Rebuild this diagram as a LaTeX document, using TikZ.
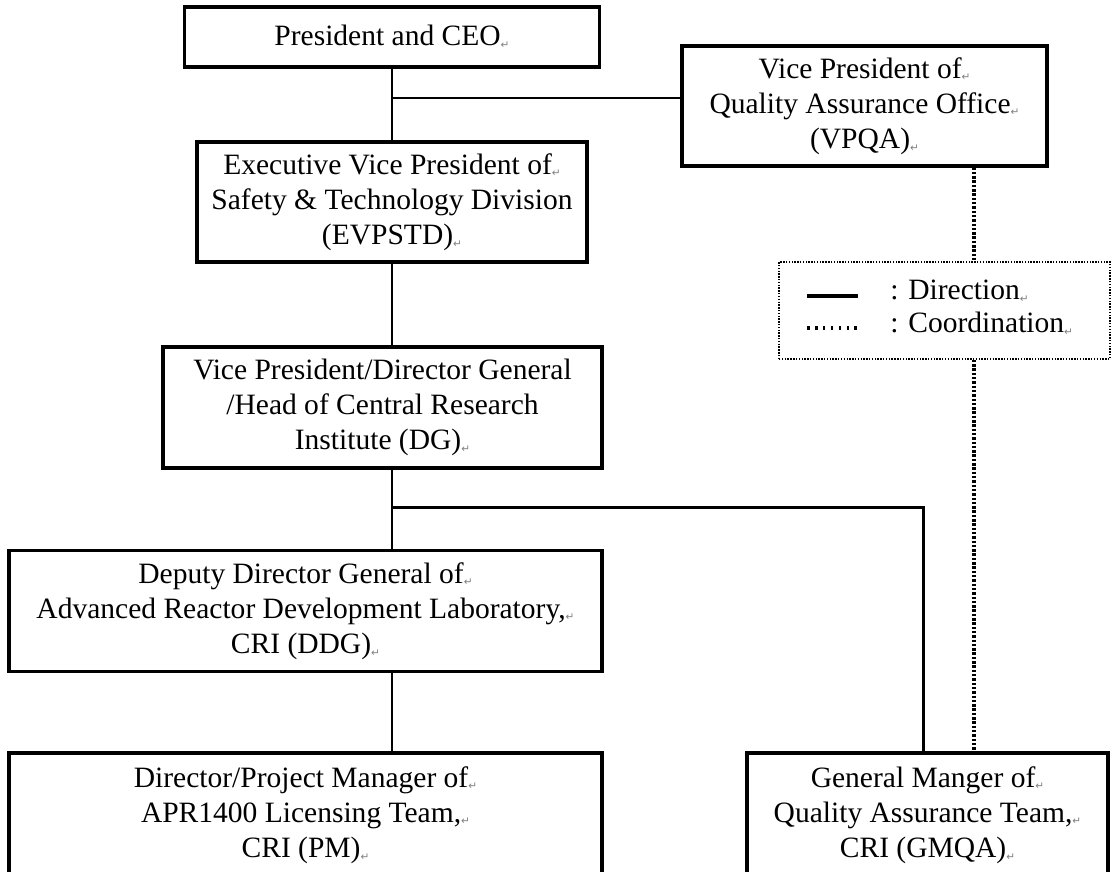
\documentclass[tikz,border=0pt]{standalone}
\usepackage{fontspec}
\setmainfont{Liberation Serif}
\newfontfamily\markfont{DejaVu Sans}
\usetikzlibrary{positioning,calc}
\tikzset{
    unit/.style={
        draw,
        rectangle,
        line width=1.8pt,
        inner sep=0pt,
        align=center,
        font=\fontsize{16.8}{20}\selectfont
    },
    keybox/.style={
        draw,
        rectangle,
        line width=0.9pt,
        dash pattern=on 0.8pt off 0.8pt,
        inner sep=0pt
    },
    keytext/.style={anchor=west, inner sep=0pt, font=\fontsize{16.8}{20}\selectfont},
    direct/.style={line width=1.7pt},
    coord/.style={line width=2pt, dash pattern=on 1.4pt off 1.05pt}
}
\newcommand{\retmark}{\raisebox{-0.2ex}{\markfont\fontsize{6}{6}\selectfont\color{gray}↵}}

\begin{document}
\begin{tikzpicture}[x=0.02cm, y=-0.02cm]
  \useasboundingbox (0,0) rectangle (1112,872);
  \clip (0,0) rectangle (1112,872);

  % Boxes
  \node[unit, minimum width=8.3cm, minimum height=1.2cm] (ceo) at (392,37) {President and CEO\retmark};
  \node[unit, minimum width=7.3cm, minimum height=2.4cm] (vpqa) at (864.5,106)
    {Vice President of\retmark\\Quality Assurance Office\retmark\\(VPQA)\retmark};
  \node[unit, minimum width=7.8cm, minimum height=2.4cm] (evp) at (392,202)
    {Executive Vice President of\retmark\\Safety \& Technology Division\\(EVPSTD)\retmark};
  \node[unit, minimum width=8.78cm, minimum height=2.42cm] (dg) at (382.5,407.5)
    {Vice President/Director General\\/Head of Central Research\\Institute (DG)\retmark};
  \node[unit, minimum width=11.86cm, minimum height=2.42cm] (ddg) at (305.5,611)
    {Deputy Director General of\retmark\\Advanced Reactor Development Laboratory,\retmark\\CRI (DDG)\retmark};
  \node[unit, minimum width=11.86cm, minimum height=2.48cm] (pm) at (305.5,815)
    {Director/Project Manager of\retmark\\APR1400 Licensing Team,\retmark\\CRI (PM)\retmark};
  \node[unit, minimum width=7.22cm, minimum height=2.48cm] (gmqa) at (927.5,815)
    {General Manger of\retmark\\Quality Assurance Team,\retmark\\CRI (GMQA)\retmark};

  % Legend
  \node[keybox, minimum width=6.62cm, minimum height=1.94cm] (key) at (944.5,310.5) {};
  \coordinate (dirA) at (807,296);
  \coordinate (dirB) at (858,296);
  \coordinate (corA) at (807,328);
  \coordinate (corB) at (858,328);
  \draw[line width=1.8pt] (dirA) -- (dirB);
  \draw[line width=2pt, dash pattern=on 1.5pt off 3pt] (corA) -- (corB);
  \node[keytext] (dirtext) at (890,291) {: Direction\retmark};
  \node[keytext] (cortext) at (890,324) {: Coordination\retmark};

  % Direction lines
  \coordinate (ceoj) at (392,98);
  \coordinate (dgj) at (392,507);
  \coordinate (qaj) at (923,507);
  \draw[direct] (ceo.south) -- (evp.north);
  \draw[direct] (ceoj) -- (ceoj -| vpqa.west);
  \draw[direct] (evp.south) -- (evp.south |- dg.north);
  \draw[direct] (evp.south |- dg.south) -- (evp.south |- ddg.north);
  \draw[direct] (dgj) -- (qaj) -- (qaj |- gmqa.north);
  \draw[direct] (evp.south |- ddg.south) -- (evp.south |- pm.north);

  % Coordination line
  \coordinate (qa) at (974,0);
  \draw[coord] (vpqa.south -| qa) -- (key.north -| qa);
  \draw[coord] (key.south -| qa) -- (gmqa.north -| qa);
\end{tikzpicture}
\end{document}
